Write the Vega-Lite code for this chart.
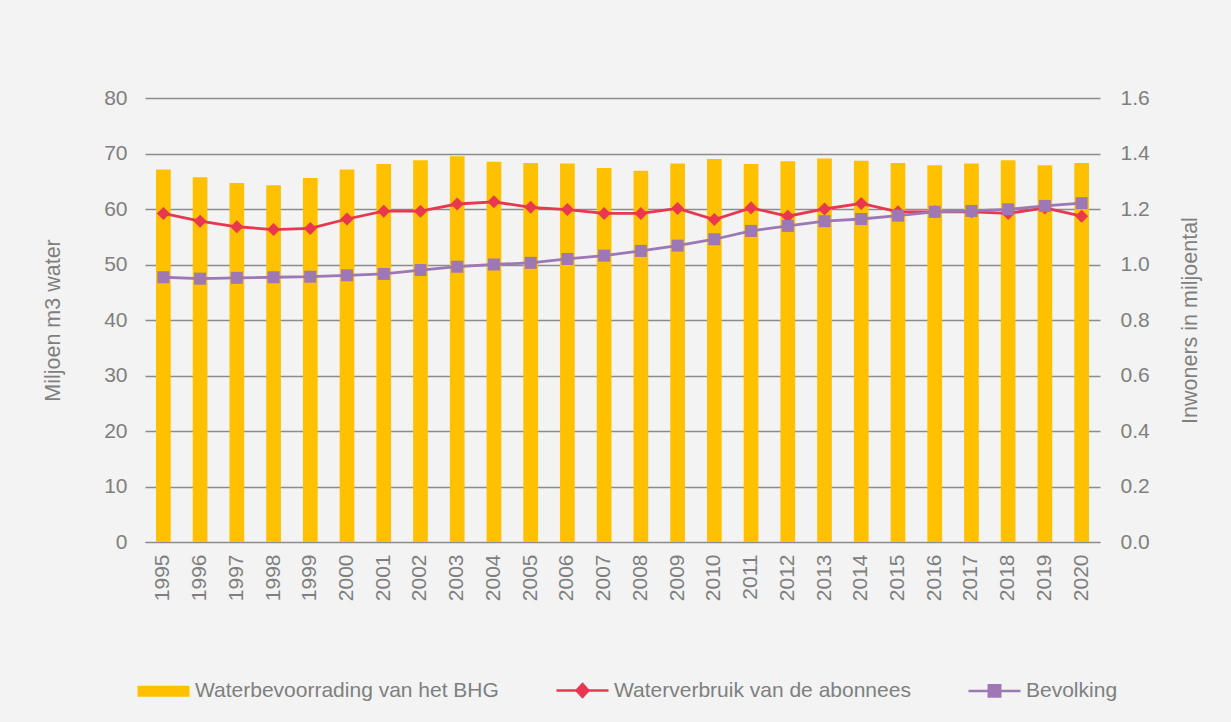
{
  "$schema": "https://vega.github.io/schema/vega-lite/v6.json",
  "width": 955,
  "height": 444,
  "autosize": {"type": "none"},
  "padding": {"left": 145, "top": 98, "right": 131, "bottom": 180},
  "background": "#f2f3f2",
  "config": {
    "view": {"stroke": null},
    "font": "Liberation Sans",
    "axis": {"labelColor": "#7f7f7f", "titleColor": "#7f7f7f", "labelFontSize": 21, "titleFontSize": 21.5, "titleFontWeight": "normal", "labelFont": "Liberation Sans", "titleFont": "Liberation Sans"},
    "legend": {"labelColor": "#7f7f7f", "labelFontSize": 21, "labelFont": "Liberation Sans", "labelLimit": 500}
  },
  "data": {
    "values": [
      {"year": "1995", "supply": 67.1, "use": 59.2, "pop": 0.954},
      {"year": "1996", "supply": 65.7, "use": 57.8, "pop": 0.949},
      {"year": "1997", "supply": 64.7, "use": 56.8, "pop": 0.952},
      {"year": "1998", "supply": 64.3, "use": 56.3, "pop": 0.954},
      {"year": "1999", "supply": 65.6, "use": 56.5, "pop": 0.956},
      {"year": "2000", "supply": 67.1, "use": 58.2, "pop": 0.961},
      {"year": "2001", "supply": 68.1, "use": 59.6, "pop": 0.966},
      {"year": "2002", "supply": 68.8, "use": 59.6, "pop": 0.980},
      {"year": "2003", "supply": 69.5, "use": 60.9, "pop": 0.992},
      {"year": "2004", "supply": 68.5, "use": 61.3, "pop": 1.000},
      {"year": "2005", "supply": 68.3, "use": 60.3, "pop": 1.006},
      {"year": "2006", "supply": 68.2, "use": 59.9, "pop": 1.020},
      {"year": "2007", "supply": 67.4, "use": 59.2, "pop": 1.032},
      {"year": "2008", "supply": 66.9, "use": 59.2, "pop": 1.049},
      {"year": "2009", "supply": 68.2, "use": 60.1, "pop": 1.068},
      {"year": "2010", "supply": 69.0, "use": 58.1, "pop": 1.091},
      {"year": "2011", "supply": 68.1, "use": 60.2, "pop": 1.121},
      {"year": "2012", "supply": 68.6, "use": 58.7, "pop": 1.139},
      {"year": "2013", "supply": 69.1, "use": 60.0, "pop": 1.156},
      {"year": "2014", "supply": 68.7, "use": 61.0, "pop": 1.164},
      {"year": "2015", "supply": 68.3, "use": 59.5, "pop": 1.176},
      {"year": "2016", "supply": 67.9, "use": 59.5, "pop": 1.190},
      {"year": "2017", "supply": 68.2, "use": 59.5, "pop": 1.193},
      {"year": "2018", "supply": 68.8, "use": 59.2, "pop": 1.199},
      {"year": "2019", "supply": 67.9, "use": 60.2, "pop": 1.211},
      {"year": "2020", "supply": 68.3, "use": 58.7, "pop": 1.221}
    ]
  },
  "encoding": {
    "x": {
      "field": "year", "type": "ordinal",
      "scale": {"paddingInner": 0.6, "paddingOuter": 0.3},
      "axis": {"title": null, "labelAngle": -90, "labelAlign": "right", "labelBaseline": "middle", "labelPadding": 12, "ticks": false, "domainColor": "#8c8c8c", "domainWidth": 1.2, "grid": false}
    }
  },
  "layer": [
    {
      "layer": [
        {
          "mark": {"type": "bar"},
          "encoding": {
            "y": {"field": "supply", "type": "quantitative", "scale": {"domain": [0, 80]},
              "axis": {"title": "Miljoen m3 water", "values": [0,10,20,30,40,50,60,70,80], "ticks": false, "domain": false, "labelPadding": 18, "titlePadding": 39, "gridColor": "#8c8c8c", "gridWidth": 1.3}},
            "color": {"datum": "Waterbevoorrading van het BHG", "type": "nominal",
              "scale": {"domain": ["Waterbevoorrading van het BHG", "Waterverbruik van de abonnees", "Bevolking"], "range": ["#ffc000", "#e8374f", "#9e77b5"]},
              "legend": {
                "title": null, "orient": "none", "legendX": 8, "legendY": 582, "direction": "horizontal", "columns": 3,
                "columnPadding": 52, "labelOffset": 21, "symbolSize": 2704, "symbolStrokeWidth": 2.5,
                "encode": {"symbols": {"update": {
                  "shape": {"signal": "datum.value === 'Waterbevoorrading van het BHG' ? 'M-1,-0.21H1V0.21H-1Z' : (datum.value === 'Waterverbruik van de abonnees' ? 'M-1,0H1M0,-0.25L0.23,0L0,0.25L-0.23,0Z' : 'M-1,0H1M-0.22,-0.22H0.22V0.22H-0.22Z')"},
                  "fill": {"signal": "datum.value === 'Waterbevoorrading van het BHG' ? '#ffc000' : (datum.value === 'Waterverbruik van de abonnees' ? '#e8374f' : '#9e77b5')"},
                  "stroke": {"signal": "datum.value === 'Waterbevoorrading van het BHG' ? '#ffc000' : (datum.value === 'Waterverbruik van de abonnees' ? '#e8374f' : '#9e77b5')"},
                  "strokeWidth": {"signal": "datum.value === 'Waterbevoorrading van het BHG' ? 0 : 2.5"},
                  "opacity": {"value": 1}
                }}}
              }
            }
          }
        },
        {
          "mark": {"type": "line", "strokeWidth": 2.8, "point": {"shape": "diamond", "size": 170, "filled": true, "opacity": 1}},
          "encoding": {
            "y": {"field": "use", "type": "quantitative"},
            "color": {"datum": "Waterverbruik van de abonnees", "type": "nominal"}
          }
        }
      ]
    },
    {
      "mark": {"type": "line", "strokeWidth": 2.8, "point": {"shape": "square", "size": 144, "filled": true, "opacity": 1}},
      "encoding": {
        "y": {"field": "pop", "type": "quantitative", "scale": {"domain": [0, 1.6]},
          "axis": {"orient": "right", "title": "Inwoners in miljoental", "values": [0,0.2,0.4,0.6,0.8,1.0,1.2,1.4,1.6], "format": ".1f", "ticks": false, "domain": false, "grid": false, "labelPadding": 20, "titlePadding": 30, "titleAngle": -90, "titleBaseline": "top"}},
        "color": {"datum": "Bevolking", "type": "nominal"}
      }
    }
  ],
  "resolve": {"scale": {"y": "independent"}}
}
